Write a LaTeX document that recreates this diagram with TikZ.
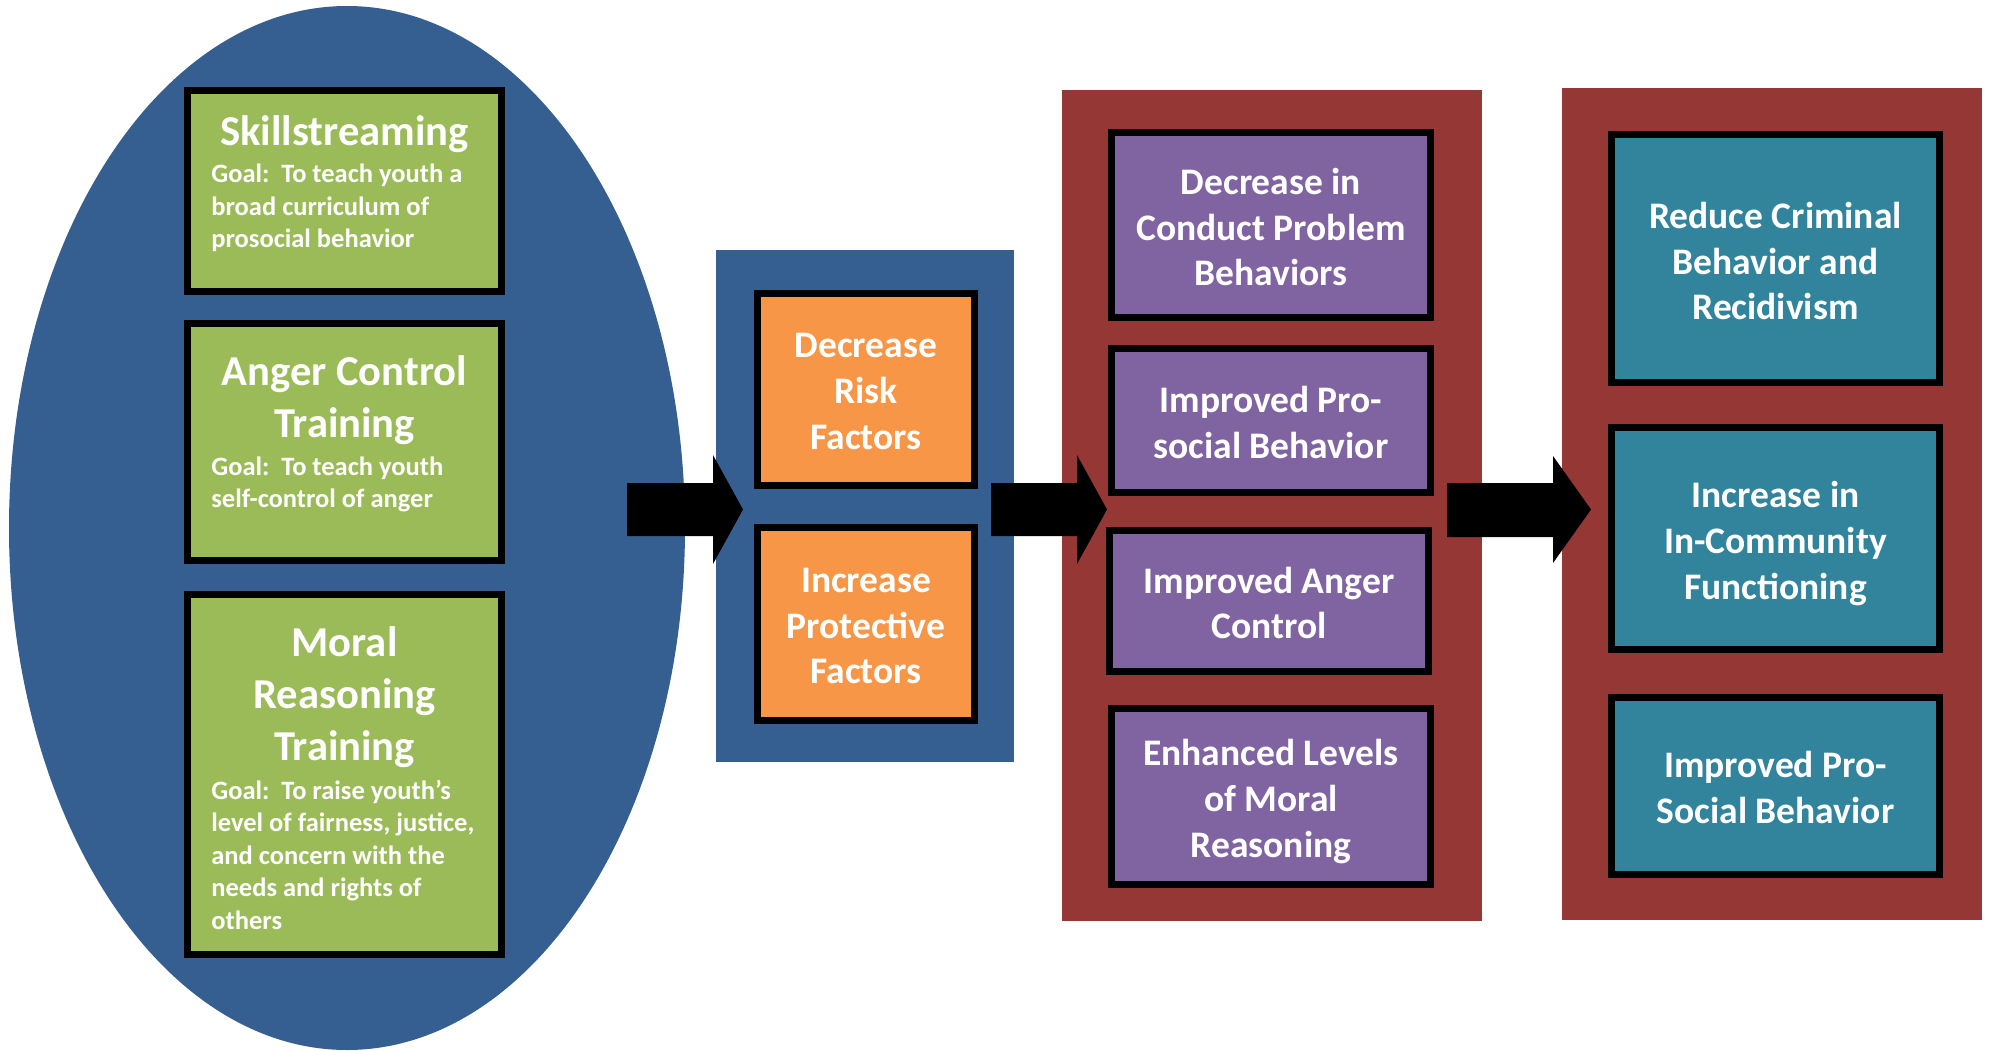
\documentclass[tikz,border=0pt]{standalone}
\usepackage{fontspec}
\setmainfont{Carlito}
\usetikzlibrary{shapes.geometric}
\definecolor{ellblue}{HTML}{365F91}
\definecolor{grn}{HTML}{9BBB59}
\definecolor{org}{HTML}{F79646}
\definecolor{redp}{HTML}{953735}
\definecolor{purp}{HTML}{8064A2}
\definecolor{teal2}{HTML}{31849B}
\tikzset{
  panel/.style={fill=#1, inner sep=0pt, draw=none},
  cbox/.style={fill=#1, draw=black, line width=3.5pt, inner sep=0pt},
  btext/.style={text=white, inner sep=0pt, align=center,
    font=\bfseries\fontsize{18.75}{22.85}\selectfont},
  titletext/.style={text=white, inner sep=0pt, anchor=north, align=center,
    font=\bfseries\fontsize{21.3}{26}\selectfont},
  goaltext/.style={text=white, inner sep=0pt, anchor=north west, align=left,
    font=\bfseries\fontsize{13.25}{16.25}\selectfont},
  blockarrow/.style={fill=black}
}
\begin{document}
\begin{tikzpicture}[x=0.5pt,y=-0.5pt]
\useasboundingbox (0,0) rectangle (1992,1050);
\fill[white] (0,0) rectangle (1992,1050);
% big ellipse
\node[ellipse, fill=ellblue, inner sep=0pt, minimum width=338pt, minimum height=522pt] (ell) at (347,528) {};
% panels
\node[panel=ellblue, minimum width=149pt, minimum height=256pt] (bluepanel) at (865,506) {};
\node[panel=redp, minimum width=210pt, minimum height=415.5pt] (redA) at (1272,505.5) {};
\node[panel=redp, minimum width=210pt, minimum height=416pt] (redB) at (1772,504) {};
% block arrows
\fill[blockarrow] (627,483) -- (713,483) -- (713,455) -- (743,509.5) -- (713,564) -- (713,536) -- (627,536) -- cycle;
\fill[blockarrow] (991,483) -- (1077,483) -- (1077,455) -- (1107,509.5) -- (1077,564) -- (1077,536) -- (991,536) -- cycle;
\fill[blockarrow] (1447,483) -- (1553,483) -- (1553,456) -- (1591,509.5) -- (1553,563) -- (1553,537) -- (1447,537) -- cycle;
% green boxes
\node[cbox=grn, minimum width=157pt, minimum height=100.5pt] (g1) at (344.5,191) {};
\node[cbox=grn, minimum width=157pt, minimum height=118.5pt] (g2) at (344.5,442) {};
\node[cbox=grn, minimum width=157pt, minimum height=180pt] (g3) at (344.5,774.5) {};
\node[titletext] (g1t) at (344.5,115.5) {Skillstreaming};
\node[goaltext] (g1g) at (211,164) {Goal:\ \ To teach youth a\\broad curriculum of\\prosocial behavior};
\node[titletext] (g2t) at (344.5,355) {Anger Control\\Training};
\node[goaltext] (g2g) at (211,456) {Goal:\ \ To teach youth\\self-control of anger};
\node[titletext] (g3t) at (344.5,626) {Moral\\Reasoning\\Training};
\node[goaltext] (g3g) at (211,779.5) {Goal:\ \ To raise youth’s\\level of fairness, justice,\\and concern with the\\needs and rights of\\others};
% orange boxes
\node[cbox=org, minimum width=108.5pt, minimum height=96pt] (o1) at (866,389.5) {};
\node[cbox=org, minimum width=108.5pt, minimum height=96.5pt] (o2) at (866,624) {};
\node[btext] (o1x) at ([yshift=-1pt]o1.center) {Decrease\\Risk\\Factors};
\node[btext] (o2x) at ([yshift=-1pt]o2.center) {Increase\\Protective\\Factors};
% purple boxes
\node[cbox=purp, minimum width=159.5pt, minimum height=92.5pt] (p1) at (1271,225) {};
\node[cbox=purp, minimum width=159.5pt, minimum height=72pt] (p2) at (1271,420.5) {};
\node[cbox=purp, minimum width=159.5pt, minimum height=70.5pt] (p3) at (1269,601) {};
\node[cbox=purp, minimum width=159.5pt, minimum height=88pt] (p4) at (1271,796.5) {};
\node[btext] (p1x) at ([yshift=-1pt]p1.center) {Decrease in\\Conduct Problem\\Behaviors};
\node[btext] (p2x) at ([yshift=-1pt]p2.center) {Improved Pro-\\social Behavior};
\node[btext] (p3x) at ([yshift=-1pt]p3.center) {Improved Anger\\Control};
\node[btext] (p4x) at ([yshift=-2.5pt]p4.center) {Enhanced Levels\\of Moral\\Reasoning};
% teal boxes
\node[cbox=teal2, minimum width=164pt, minimum height=124pt] (t1) at (1775.5,258.5) {};
\node[cbox=teal2, minimum width=164pt, minimum height=111pt] (t2) at (1775.5,538.5) {};
\node[cbox=teal2, minimum width=164pt, minimum height=88.75pt] (t3) at (1775.5,785.75) {};
\node[btext] (t1x) at ([yshift=-1.25pt]t1.center) {Reduce Criminal\\Behavior and\\Recidivism};
\node[btext] (t2x) at ([yshift=-2.5pt]t2.center) {Increase in\\In-Community\\Functioning};
\node[btext] (t3x) at ([yshift=-1pt]t3.center) {Improved Pro-\\Social Behavior};
\end{tikzpicture}
\end{document}
